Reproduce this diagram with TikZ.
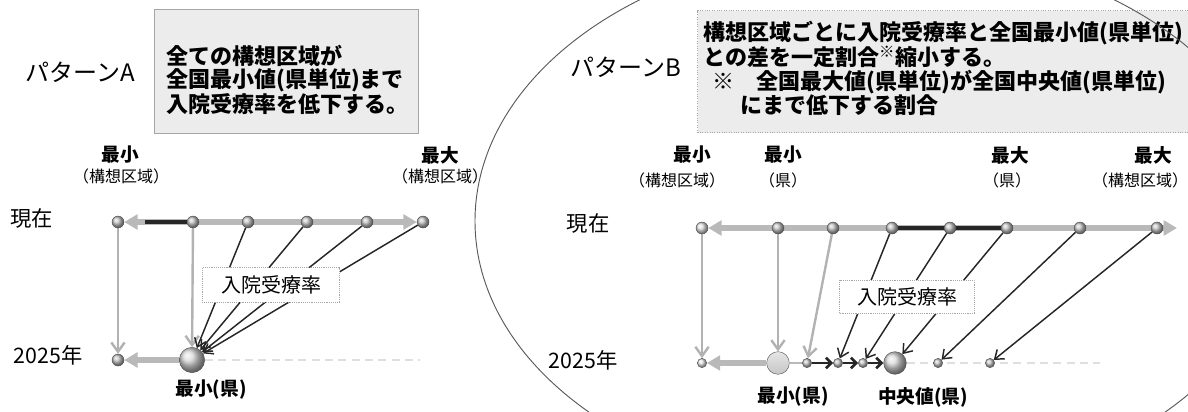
\documentclass[tikz,border=0pt]{standalone}
\usepackage{fontspec}
\setmainfont{Noto Sans CJK JP}
\usetikzlibrary{arrows.meta,backgrounds}

\tikzset{
  dot/.style={circle,draw=black!70,line width=0.3pt,shading=ball,ball color=gray!45,inner sep=0pt,minimum size=9pt},
  smalldot/.style={dot,minimum size=7pt},
  bigdot/.style={dot,ball color=gray!30,minimum size=17pt},
  band/.style={draw=gray!55,line width=3.8pt,-{Triangle[length=10pt,width=11pt]}},
  bandk/.style={draw=black!85,line width=2.4pt},
  fall/.style={draw=gray!60,line width=1.8pt,-{Straight Barb[length=7pt,width=10pt]}},
  fallk/.style={draw=black!85,line width=1.1pt,-{Straight Barb[length=6pt,width=9pt]}},
  chainarr/.style={draw=black!85,line width=2pt,-{Straight Barb[length=4pt,width=8pt]}},
  faint/.style={draw=gray!25,line width=2pt,dash pattern=on 6pt off 4pt},
  infobox/.style={draw=gray!70,fill=gray!15,line width=0.8pt,inner sep=0pt},
  ratebox/.style={draw=gray!70,densely dotted,fill=white,inner sep=0pt,font=\fontsize{15}{15}\selectfont},
  boxtext/.style={align=left,inner sep=0pt,font=\bfseries\fontsize{16.5}{17}\selectfont},
  titlelbl/.style={inner sep=0pt,font=\fontsize{18}{18}\selectfont},
  rowlbl/.style={inner sep=0pt,font=\fontsize{16}{16}\selectfont},
  toplbl/.style={inner sep=0pt,font=\bfseries\fontsize{14}{14}\selectfont},
  sublbl/.style={inner sep=0pt,font=\fontsize{12}{12}\selectfont},
  botlbl/.style={inner sep=0pt,font=\bfseries\fontsize{14}{14}\selectfont},
}

\begin{document}
\begin{tikzpicture}[x=0.75pt,y=0.75pt,yscale=-1,xscale=1]
\useasboundingbox (0,0) rectangle (1188,411);

%Shape: Rectangle (pattern A)
\node[infobox,anchor=north west,minimum width=198pt,minimum height=93pt] (boxA) at (154,9) {};
%Shape: Rectangle (pattern B)
\node[infobox,densely dotted,anchor=north west,minimum width=374pt,minimum height=91.5pt] (boxB) at (697,10) {};

% Text Node
\node[titlelbl] (patA) at (80,72) {パターンA};
% Text Node
\node[boxtext,anchor=west,font=\bfseries\fontsize{16.5}{16.9}\selectfont] (txtA) at (166,80) {全ての構想区域が\\全国最小値(県単位)まで\\入院受療率を低下する。};
% Text Node
\node[titlelbl] (patB) at (626,67) {パターンB};
% Text Node
\node[boxtext,anchor=west,font=\bfseries\fontsize{16.5}{17.8}\selectfont] (txtB) at (703,68) {構想区域ごとに入院受療率と全国最小値(県単位)\\との差を一定割合\textsuperscript{※}縮小する。\\\hspace*{7pt}※　全国最大値(県単位)が全国中央値(県単位)\\\hspace*{28pt}にまで低下する割合};

% Text Node
\node[toplbl] (minA) at (120,155) {最小};
\node[sublbl] (minAsub) at (121,176) {（構想区域）};
\node[toplbl] (maxA) at (440,155) {最大};
\node[sublbl] (maxAsub) at (440,176) {（構想区域）};
\node[rowlbl] (nowA) at (32,218) {現在};
\node[rowlbl] (yearA) at (48,355) {2025年};
\node[botlbl] (prefA) at (211,390) {最小(県)};

% Text Node
\node[toplbl] (minB) at (692,155) {最小};
\node[sublbl] (minBsub) at (677,180) {（構想区域）};
\node[toplbl] (minpB) at (783,155) {最小};
\node[sublbl] (minpBsub) at (783,180) {（県）};
\node[toplbl] (maxpB) at (1010,155) {最大};
\node[sublbl] (maxpBsub) at (1007,180) {（県）};
\node[toplbl] (maxB) at (1153,155) {最大};
\node[sublbl] (maxBsub) at (1140,180) {（構想区域）};
\node[rowlbl] (nowB) at (588,223) {現在};
\node[rowlbl] (yearB) at (583,360) {2025年};
\node[botlbl] (prefB) at (793,397) {最小(県)};
\node[botlbl] (medB) at (923,397) {中央値(県)};

%Shape: Circle (pattern A, now)
\node[dot] (a0) at (118,222) {};
\node[dot] (a1) at (193,222) {};
\node[dot] (a2) at (248,222) {};
\node[dot] (a3) at (307,222) {};
\node[dot] (a4) at (367,222) {};
\node[dot] (a5) at (423,222) {};
%Shape: Circle (pattern A, 2025)
\node[dot] (b0) at (118,360) {};
\node[bigdot,minimum size=19pt] (b1) at (192,360) {};
\coordinate (kA) at (145,222);
\coordinate (eA) at (420,360);

%Shape: Circle (pattern B, now)
\node[dot,ball color=gray!20] (c0) at (702,228) {};
\node[dot] (c1) at (778,228) {};
\node[dot] (c2) at (833,228) {};
\node[dot] (c3) at (892,228) {};
\node[dot] (c4) at (950,228) {};
\node[dot] (c5) at (1007,228) {};
\node[dot] (c6) at (1080,228) {};
\node[dot] (c7) at (1157,228) {};
%Shape: Circle (pattern B, 2025)
\node[smalldot,ball color=gray!20] (d0) at (702,363) {};
\node[bigdot,shading=axis,top color=gray!20,bottom color=gray!45] (d1) at (778,363) {};
\node[smalldot] (d2) at (807,363) {};
\node[smalldot] (d3) at (838,363) {};
\node[smalldot] (d4) at (863,363) {};
\node[bigdot] (d5) at (895,363) {};
\node[smalldot] (d6) at (938,363) {};
\node[smalldot] (d7) at (990,363) {};
\coordinate (cE) at (1177,228);
\coordinate (eB) at (1100,363);

% Text Node
\node[ratebox,minimum width=103pt,minimum height=26pt] (rateA) at (271,285) {入院受療率};
\node[ratebox,minimum width=101pt,minimum height=25pt] (rateB) at (907,297) {入院受療率};

\begin{scope}[on background layer]
%Straight Lines (pattern A)
\draw[band] (a1) -- (a0);
\draw[band] (a1) -- (a5);
\draw[bandk] (kA) -- (a1);
\draw[band] (b1) -- (b0);
\draw[faint] (b1) -- (eA);
\draw[fall] (a0) -- (b0);
\draw[fall] (a1) -- (b1);
\draw[fallk] (a2) -- (b1);
\draw[fallk] (a3) -- (b1);
\draw[fallk] (a4) -- (b1);
\draw[fallk] (a5) -- (b1);

%Straight Lines (pattern B)
\draw[band] (c1) -- (c0);
\draw[band] (c1) -- (cE);
\draw[bandk] (c3) -- (c5);
\draw[band] (d1) -- (d0);
\draw[draw=gray!55,line width=2pt] (d1) -- (d2);
\draw[chainarr] (d2) -- (d3);
\draw[chainarr] (d3) -- (d4);
\draw[chainarr] (d4) -- (d5);
\draw[faint] (d5) -- (eB);
\draw[fall] (c0) -- (d0);
\draw[fall] (c1) -- (d1);
\draw[fall] (c2) -- (d2);
\draw[fallk] (c3) -- (d3);
\draw[fallk] (c4) -- (d4);
\draw[fallk] (c5) -- (d5);
\draw[fallk] (c6) -- (d6);
\draw[fallk] (c7) -- (d7);
\end{scope}

%Shape: Ellipse
\draw[line width=0.7pt,color=black!65] (877,221) ellipse [x radius=402, y radius=274];

\end{tikzpicture}
\end{document}
